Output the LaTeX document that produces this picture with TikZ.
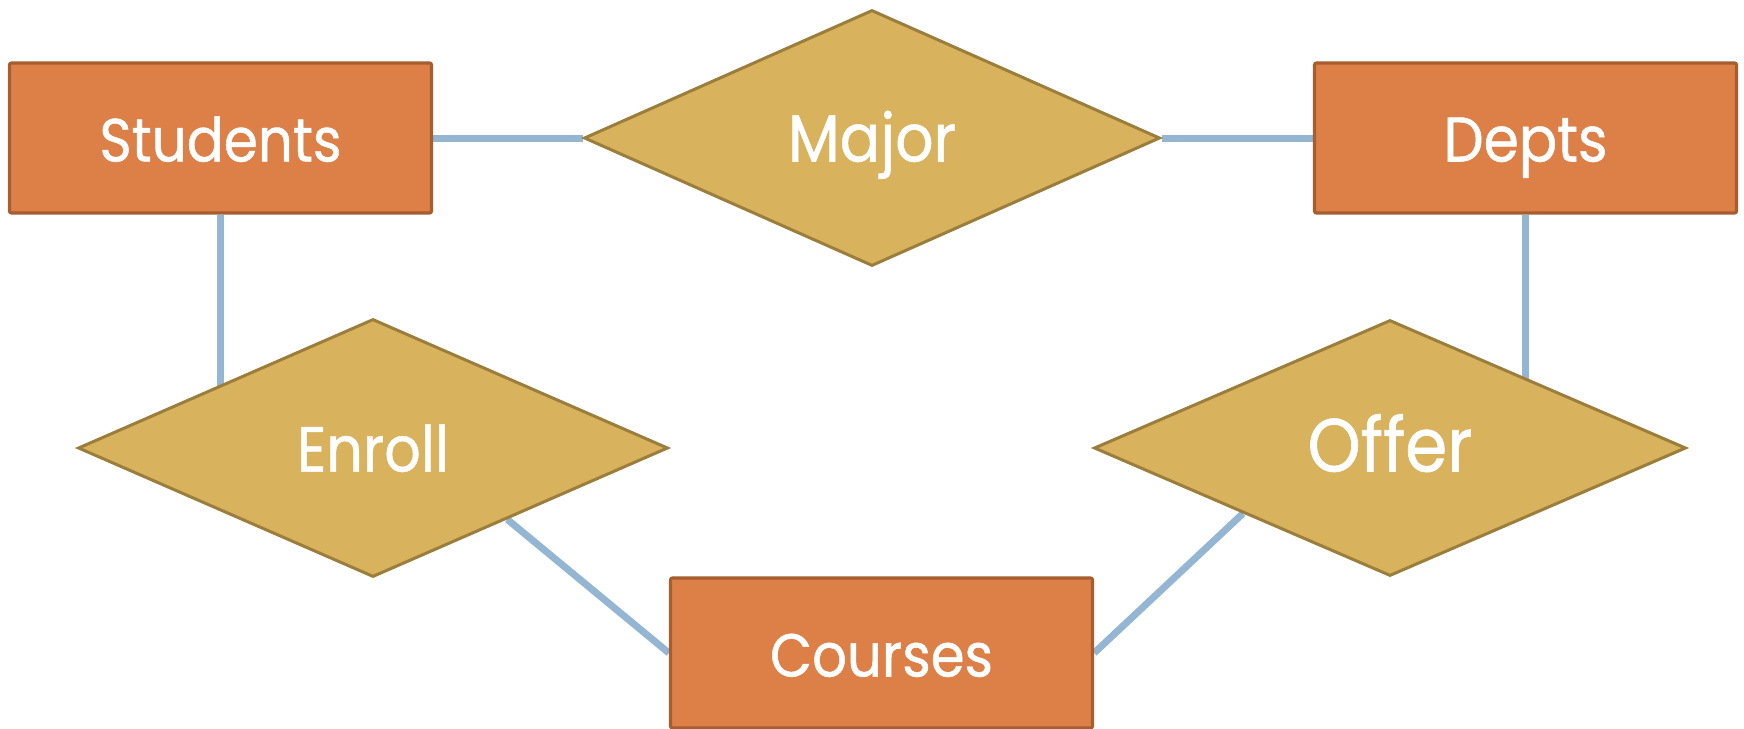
\documentclass[tikz,border=0pt]{standalone}
\usepackage{fontspec}
\usepackage{graphicx}
\setmainfont{Poppins}[FakeStretch=0.9,FakeBold=0.8]
\usetikzlibrary{shapes.geometric,backgrounds}
\definecolor{boxfill}{HTML}{DD8047}
\definecolor{boxline}{HTML}{A65E30}
\definecolor{dfill}{HTML}{D8B25C}
\definecolor{dline}{HTML}{9C7E3C}
\definecolor{linkcol}{HTML}{94B6D2}
\newcommand\fitw[2]{\resizebox{#1}{!}{#2}}
\begin{document}
\begin{tikzpicture}[x=0.5pt,y=-0.5pt,
  lbl/.style={text=white, font=\fontsize{34}{38}\selectfont, text height=23.5pt, text depth=0pt},
  entity/.style={lbl, draw=boxline, fill=boxfill, line width=1.6pt, rounded corners=1pt,
    minimum width=211pt, minimum height=75pt, inner sep=0pt},
  relation/.style={lbl, diamond, draw=dline, fill=dfill, line width=1.5pt, inner sep=0pt, aspect=2.3},
  linkline/.style={draw=linkcol, line width=3.5pt}]
\useasboundingbox (0,0) rectangle (1744,728);
\node[entity] (students) at (220.5,138) {\fitw{121pt}{Students}};
\node[entity] (depts) at (1525.5,138) {\fitw{82pt}{Depts}};
\node[entity] (courses) at (881.5,653) {\fitw{111.5pt}{Courses}};
\node[relation, minimum width=288pt, minimum height=128pt] (major) at (872,138) {\fitw{84pt}{Major}};
\node[relation, minimum width=295pt, minimum height=129pt] (enroll) at (373,448) {\fitw{76pt}{Enroll}};
\node[relation, minimum width=296pt, minimum height=128pt] (offer) at (1390,448) {\fitw{82.5pt}{Offer}};
\begin{pgfonlayer}{background}
\draw[linkline] (students.east) -- (major.west);
\draw[linkline] (major.east) -- (depts.west);
\draw[linkline] (students.south) -- (students.south |- enroll.center);
\draw[linkline] (depts.south) -- (depts.south |- offer.center);
\draw[linkline] (enroll.-28) -- (courses.west);
\draw[linkline] (offer.204) -- (courses.east);
\end{pgfonlayer}
\end{tikzpicture}
\end{document}
